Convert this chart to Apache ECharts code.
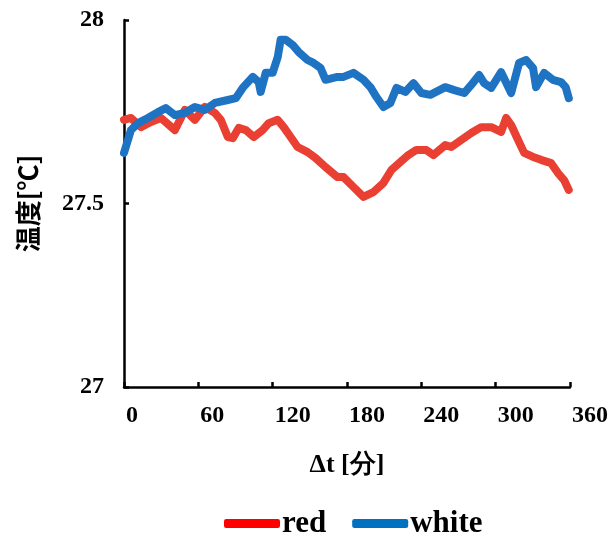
<!DOCTYPE html>
<html>
<head>
<meta charset="utf-8">
<script src="https://cdn.jsdelivr.net/npm/echarts@6/dist/echarts.min.js"></script>
<style>
html,body{margin:0;padding:0;background:#fff;}
#chart{width:611px;height:543px;}
</style>
</head>
<body>
<div id="chart"></div>
<script>
// time in minutes
var redTime = [0, 5.6, 13.7, 21.7, 29.8, 41.1, 49.1, 57.2, 65.2, 73.3, 78.1, 83.8, 87.8, 92.6, 98.3, 104.7, 111.9, 116.8, 124.0, 128.9, 134.5, 140.1, 148.2, 154.6, 162.7, 172.3, 177.2, 185.2, 193.3, 201.3, 209.4, 215.8, 223.1, 229.5, 236.0, 244.0, 249.7, 259.3, 264.2, 272.2, 280.3, 288.3, 296.4, 304.4, 308.5, 312.5, 318.1, 323.0, 330.2, 336.6, 344.7, 350.3, 355.2, 359];
var redTemp = [27.728, 27.733, 27.708, 27.722, 27.733, 27.700, 27.755, 27.728, 27.763, 27.747, 27.728, 27.681, 27.678, 27.706, 27.700, 27.681, 27.700, 27.719, 27.728, 27.708, 27.681, 27.654, 27.640, 27.624, 27.599, 27.572, 27.572, 27.545, 27.518, 27.531, 27.556, 27.591, 27.613, 27.632, 27.646, 27.646, 27.632, 27.659, 27.654, 27.673, 27.692, 27.708, 27.708, 27.695, 27.733, 27.714, 27.673, 27.638, 27.627, 27.619, 27.610, 27.583, 27.564, 27.537];
var whiteTime = [0, 5.6, 11.3, 19.3, 27.4, 33.8, 41.1, 49.1, 57.2, 65.2, 73.3, 83.8, 90.2, 95.8, 103.9, 108.7, 110.3, 114.4, 120.0, 124.1, 126.4, 130.5, 136.1, 140.9, 148.2, 153.0, 158.7, 162.7, 172.3, 177.2, 185.2, 193.3, 198.9, 203.8, 209.4, 215.0, 219.9, 227.1, 233.6, 240.0, 247.2, 259.3, 266.6, 274.6, 280.3, 286.7, 290.7, 296.4, 304.4, 312.5, 318.9, 324.6, 330.2, 332.6, 339.1, 346.3, 352.7, 356.5, 359];
var whiteTemp = [27.638, 27.700, 27.719, 27.733, 27.749, 27.760, 27.741, 27.747, 27.763, 27.755, 27.774, 27.782, 27.787, 27.815, 27.845, 27.831, 27.804, 27.856, 27.856, 27.899, 27.946, 27.946, 27.932, 27.913, 27.891, 27.883, 27.869, 27.837, 27.845, 27.845, 27.856, 27.837, 27.817, 27.790, 27.763, 27.774, 27.815, 27.804, 27.828, 27.801, 27.796, 27.817, 27.809, 27.801, 27.823, 27.850, 27.828, 27.815, 27.858, 27.801, 27.883, 27.891, 27.869, 27.817, 27.856, 27.837, 27.831, 27.817, 27.787];
var xTicks = [0, 60, 120, 180, 240, 300, 360];
var yTicks = [27, 27.5, 28];
var seriesNames = ['red', 'white'];

function pairs(xs, ys) { return xs.map(function (x, i) { return [x, ys[i]]; }); }

var serif = '"Liberation Serif","Times New Roman",serif';
var chart = echarts.init(document.getElementById('chart'), null, {renderer: 'canvas'});
chart.setOption({
  animation: false,
  backgroundColor: '#ffffff',
  grid: {left: 124, right: 40, top: 20, bottom: 156, containLabel: false},
  xAxis: {
    type: 'value', min: xTicks[0], max: xTicks[xTicks.length - 1], interval: 60,
    name: 'Δt [分]', nameLocation: 'middle', nameGap: 65,
    nameTextStyle: {fontFamily: serif, fontWeight: 'bold', fontSize: 26, color: '#000'},
    axisLine: {show: true, onZero: false, lineStyle: {color: '#000', width: 2.5}},
    axisTick: {show: true, inside: true, length: 5, lineStyle: {color: '#000', width: 2.5}},
    axisLabel: {fontFamily: serif, fontWeight: 'bold', fontSize: 24, color: '#000', align: 'left', margin: 17, padding: [0, 0, 0, 2], showMaxLabel: true, showMinLabel: true},
    splitLine: {show: false}
  },
  yAxis: {
    type: 'value', min: yTicks[0], max: yTicks[yTicks.length - 1], interval: 0.5,
    name: '温度[℃]', nameLocation: 'middle', nameGap: 83, nameRotate: 90,
    nameTextStyle: {fontFamily: '"Noto Sans CJK JP", sans-serif', fontWeight: 'bold', fontSize: 26, color: '#000'},
    axisLine: {show: true, lineStyle: {color: '#000', width: 2.5}},
    axisTick: {show: true, inside: true, length: 5, lineStyle: {color: '#000', width: 2.5}},
    axisLabel: {fontFamily: serif, fontWeight: 'bold', fontSize: 24, color: '#000', margin: 20, padding: [5, 0, 0, 0],
      formatter: function (v) { return String(v); }},
    splitLine: {show: false}
  },
  legend: {
    left: 219, top: 503,
    itemWidth: 56, itemHeight: 9, itemGap: 26,
    icon: 'roundRect',
    textStyle: {fontFamily: serif, fontWeight: 'bold', fontSize: 31, color: '#000', padding: [0, 0, 0, -3]},
    data: [
      {name: seriesNames[0], itemStyle: {color: '#FF0000'}},
      {name: seriesNames[1], itemStyle: {color: '#0070C0'}}
    ]
  },
  series: [
    {name: seriesNames[0], type: 'line', data: pairs(redTime, redTemp), showSymbol: false, symbol: 'none',
      lineStyle: {color: '#EA4033', width: 8, cap: 'round', join: 'round'}, itemStyle: {color: '#EA4033'}},
    {name: seriesNames[1], type: 'line', data: pairs(whiteTime, whiteTemp), showSymbol: false, symbol: 'none',
      lineStyle: {color: '#1F73C3', width: 8, cap: 'round', join: 'round'}, itemStyle: {color: '#1F73C3'}}
  ]
});
</script>
</body>
</html>
